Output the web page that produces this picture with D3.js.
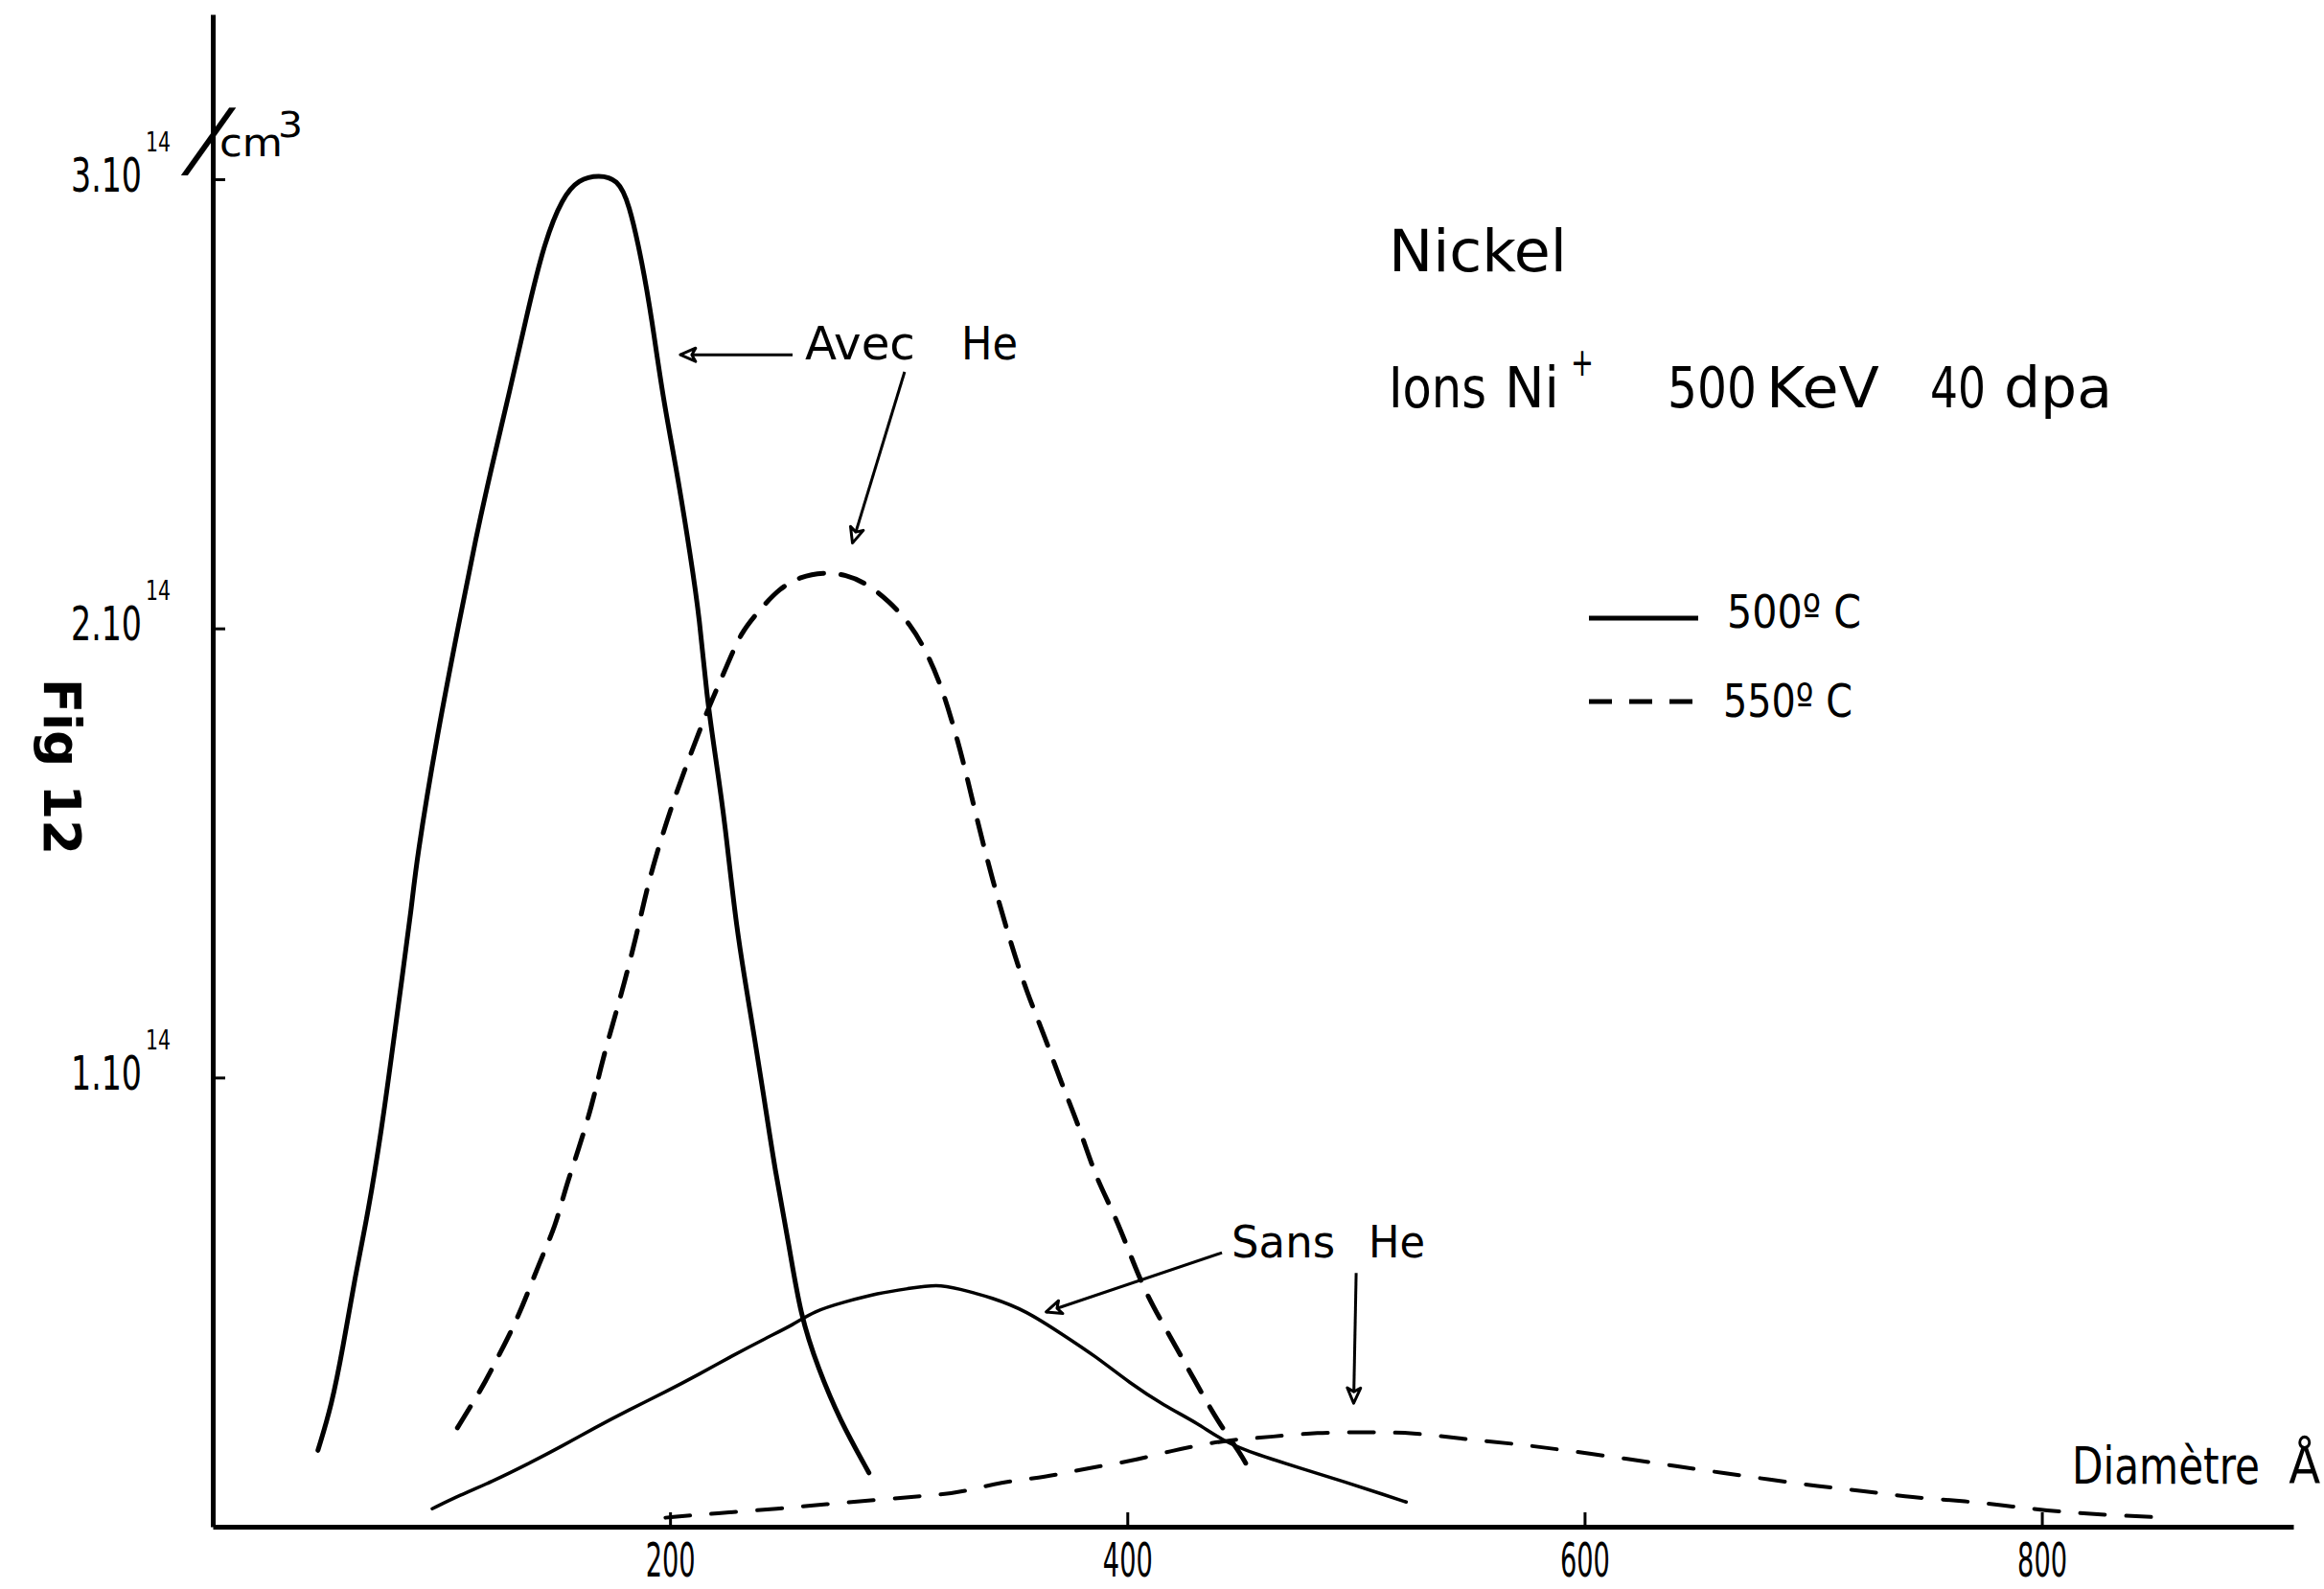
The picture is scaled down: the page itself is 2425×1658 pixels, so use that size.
<!DOCTYPE html>
<html>
<head>
<meta charset="utf-8">
<script src="https://cdn.jsdelivr.net/npm/d3@7"></script>
<style>
  html, body { margin: 0; padding: 0; background: #fff; }
  svg { display: block; }
  text { font-family: "DejaVu Sans", sans-serif; fill: #000; }
</style>
</head>
<body>
<svg id="chart"></svg>
<script>
// ---- data (diameter in Å, concentration in units of 10^14 /cm3) ----
const xTicks = [200, 400, 600, 800];
const yTicks = [1, 2, 3];
const yTickLabels = ['1.10', '2.10', '3.10'];

// 500°C, avec He (solid)
const avec500Diam = [46, 52, 57, 62, 68, 74, 78, 83, 87, 89, 98, 108, 115, 122, 130, 137, 145, 153, 160, 169,
  177, 182, 188, 192, 197, 203, 209, 213, 216, 220, 224, 229, 235, 241, 246, 252, 257, 265, 274, 287];
const avec500Conc = [0.17, 0.27, 0.40, 0.55, 0.70, 0.89, 1.04, 1.23, 1.38, 1.48, 1.76, 2.02, 2.20, 2.36, 2.53, 2.69, 2.86, 2.96, 3.00, 3.01,
  3.00, 2.95, 2.81, 2.69, 2.51, 2.35, 2.16, 2.02, 1.85, 1.71, 1.57, 1.33, 1.15, 0.96, 0.79, 0.63, 0.47, 0.35, 0.24, 0.12];

// 550°C, avec He (dashed)
const avec550Diam = [107, 113, 119, 126, 134, 143, 150, 154, 160, 166, 170, 175, 180, 185, 189, 193, 201, 209, 215, 220,
  226, 231, 239, 248, 257, 267, 277, 286, 296, 305, 312, 318, 323, 328, 334, 341, 349, 356, 364, 371,
  379, 386, 394, 401, 408, 418, 429, 440, 450, 454];
const avec550Conc = [0.22, 0.27, 0.32, 0.39, 0.47, 0.59, 0.67, 0.75, 0.84, 0.94, 1.03, 1.12, 1.21, 1.31, 1.40, 1.48, 1.61, 1.72, 1.80, 1.86,
  1.93, 1.99, 2.04, 2.09, 2.115, 2.125, 2.12, 2.10, 2.06, 2.01, 1.95, 1.88, 1.80, 1.71, 1.58, 1.44, 1.30, 1.19, 1.09, 0.99,
  0.89, 0.78, 0.70, 0.61, 0.52, 0.43, 0.33, 0.23, 0.16, 0.12];

// 500°C, sans He (solid)
const sans500Diam = [96, 108, 122, 138, 153, 167, 182, 198, 213, 227, 242, 254, 263, 276, 291, 304, 317, 326, 341, 356,
  371, 386, 401, 416, 431, 442, 457, 476, 495, 513, 522];
const sans500Conc = [0.04, 0.07, 0.10, 0.14, 0.18, 0.22, 0.26, 0.30, 0.34, 0.38, 0.42, 0.45, 0.48, 0.50, 0.52, 0.53, 0.54, 0.53, 0.51, 0.48,
  0.43, 0.38, 0.32, 0.27, 0.23, 0.19, 0.16, 0.13, 0.10, 0.07, 0.055];

// 550°C, sans He (dashed)
const sans550Diam = [198, 220, 248, 268, 291, 314, 326, 345, 364, 382, 401, 420, 435, 448, 463, 483, 504, 525, 547, 569,
  592, 620, 640, 660, 681, 702, 722, 743, 767, 787, 808, 829, 855];
const sans550Conc = [0.02, 0.03, 0.04, 0.05, 0.06, 0.07, 0.075, 0.10, 0.11, 0.13, 0.145, 0.17, 0.185, 0.195, 0.20, 0.21, 0.21, 0.21, 0.195, 0.185,
  0.17, 0.15, 0.135, 0.12, 0.105, 0.09, 0.08, 0.065, 0.057, 0.045, 0.033, 0.026, 0.02];

// ---- svg ----
const W = 2425, H = 1658;
const svg = d3.select('#chart').attr('width', W).attr('height', H);
svg.append('rect').attr('width', W).attr('height', H).attr('fill', '#fff');

const x = d3.scaleLinear().domain([0, 910]).range([222, 2393]);
const y = d3.scaleLinear().domain([0, 3.367]).range([1593, 15]);

// helper: text squeezed to a given width (the original lettering is narrow)
function label(parent, str, px, py, size, len, anchor, extra) {
  const t = parent.append('text')
    .attr('font-size', size)
    .attr('text-anchor', anchor || 'start')
    .text(str);
  if (extra) t.attr('font-weight', extra.weight || null);
  let k = 1;
  if (len) {
    const natural = t.node().getComputedTextLength();
    if (natural > 0) k = len / natural;
  }
  const rot = extra && extra.rotate ? ` rotate(${extra.rotate})` : '';
  t.attr('transform', `translate(${px},${py})${rot} scale(${k},1)`);
  return t;
}

// x axis
const xAxisG = svg.append('g')
  .attr('transform', `translate(0,${y(0)})`)
  .call(d3.axisBottom(x).tickValues(xTicks).tickSize(-15).tickSizeOuter(0).tickFormat(''));
xAxisG.select('.domain').attr('stroke', '#000').attr('stroke-width', 5);
xAxisG.selectAll('.tick line').attr('stroke', '#000').attr('stroke-width', 3);
xAxisG.selectAll('.tick').each(function(d) {
  label(d3.select(this), d, 0, 52, 50, 52, 'middle');
});

// y axis
const yAxisG = svg.append('g')
  .attr('transform', `translate(${x(0)},0)`)
  .call(d3.axisLeft(y).tickValues(yTicks).tickSize(-13).tickSizeOuter(0).tickFormat(''));
yAxisG.select('.domain').attr('stroke', '#000').attr('stroke-width', 5);
yAxisG.selectAll('.tick line').attr('stroke', '#000').attr('stroke-width', 3);
yAxisG.selectAll('.tick').each(function(d, i) {
  const g = d3.select(this);
  label(g, yTickLabels[i], -74, 12, 50, 74, 'end');
  label(g, '14', -70, -30, 28, 26);
});

// unit next to the top tick
const unit = svg.append('g').attr('transform', `translate(0,${y(3)})`);
unit.append('text').attr('font-size', 86)
  .attr('transform', 'translate(192,-12) skewX(-22)')
  .text('/');
label(unit, 'cm', 229, -24, 40, 66);
label(unit, '3', 290, -44, 38, 26);

// Fig 12 (rotated, reads downward)
label(svg, 'Fig 12', 46, 708, 54, 184, 'start', { weight: 'bold', rotate: 90 });

// ---- curves ----
const line = d3.line()
  .x(d => x(d[0]))
  .y(d => y(d[1]))
  .curve(d3.curveBasis);

const series = [
  { pts: d3.zip(avec500Diam, avec500Conc), w: 5, dash: null },
  { pts: d3.zip(sans500Diam, sans500Conc), w: 3.5, dash: null },
  { pts: d3.zip(avec550Diam, avec550Conc), w: 5, dash: '26,18' },
  { pts: d3.zip(sans550Diam, sans550Conc), w: 4, dash: '26,22' }
];

svg.append('g').selectAll('path')
  .data(series)
  .join('path')
  .attr('d', d => line(d.pts))
  .attr('fill', 'none')
  .attr('stroke', '#000')
  .attr('stroke-width', d => d.w)
  .attr('stroke-dasharray', d => d.dash)
  .attr('stroke-linecap', 'round');

// ---- arrow marker ----
svg.append('defs').append('marker')
  .attr('id', 'arrow')
  .attr('markerUnits', 'userSpaceOnUse')
  .attr('viewBox', '-22 -11 26 22')
  .attr('markerWidth', 26).attr('markerHeight', 22)
  .attr('refX', 0).attr('refY', 0)
  .attr('orient', 'auto')
  .append('path')
  .attr('d', 'M0,0 L-16,-7 L-12,0 L-16,7 Z')
  .attr('fill', '#fff').attr('stroke', '#000').attr('stroke-width', 3)
  .attr('stroke-linejoin', 'round');

// annotation arrows, in data units: [fromDiam, fromConc, toDiam, toConc]
const arrows = [
  [253.6, 2.609, 204.5, 2.609],
  [302.6, 2.571, 279.8, 2.19],
  [441.4, 0.610, 364.5, 0.478],
  [500.1, 0.565, 499.0, 0.275]
];
svg.append('g').selectAll('line')
  .data(arrows)
  .join('line')
  .attr('x1', d => x(d[0])).attr('y1', d => y(d[1]))
  .attr('x2', d => x(d[2])).attr('y2', d => y(d[3]))
  .attr('stroke', '#000').attr('stroke-width', 3)
  .attr('marker-end', 'url(#arrow)');

// annotation labels, in data units
label(svg, 'Avec', x(259), y(2.599), 48, 115);
label(svg, 'He', x(327.4), y(2.599), 48, 59);
label(svg, 'Sans', x(445.6), y(0.600), 46, 108);
label(svg, 'He', x(505.5), y(0.600), 46, 59);
label(svg, 'Diamètre', x(813.2), y(0.096), 54, 196);
label(svg, 'Å', x(908), y(0.096), 54, 33);

// ---- titles ----
label(svg, 'Nickel', 1449, 283, 60, 186);
label(svg, 'Ions', 1449, 425, 58, 102);
label(svg, 'Ni', 1570, 425, 58, 57);
label(svg, '+', 1639, 392, 40, 24);
label(svg, '500', 1740, 425, 58, 93);
label(svg, 'KeV', 1843, 425, 58, 118);
label(svg, '40', 2014, 425, 58, 58);
label(svg, 'dpa', 2091, 425, 58, 113);

// ---- legend ----
const legend = svg.append('g');
legend.append('line')
  .attr('x1', 1658).attr('x2', 1772).attr('y1', 645).attr('y2', 645)
  .attr('stroke', '#000').attr('stroke-width', 5);
legend.append('line')
  .attr('x1', 1658).attr('x2', 1772).attr('y1', 732).attr('y2', 732)
  .attr('stroke', '#000').attr('stroke-width', 5).attr('stroke-dasharray', '24,18');
label(legend, '500º C', 1802, 655, 48, 140);
label(legend, '550º C', 1798, 748, 48, 135);
</script>
</body>
</html>
